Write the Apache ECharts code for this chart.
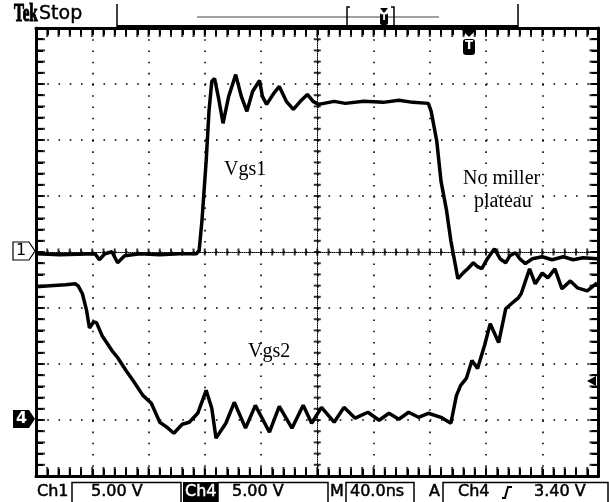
<!DOCTYPE html>
<html><head><meta charset="utf-8">
<script src="https://cdn.jsdelivr.net/npm/echarts@6/dist/echarts.min.js"></script>
<style>html,body{margin:0;padding:0;background:#fff}#c{width:609px;height:502px}</style>
</head><body><div id="c"></div>
<script>
// time in ns (40 ns/div, centred), voltages in V (5 V/div)
const vgs1 = [[-200,-0.16],[-183,-0.24],[-158,-0.16],[-155,-0.69],[-151,-0.16],[-146,0.02],[-142,-0.96],[-137,-0.33],[-126,-0.16],[-112,-0.24],[-98,-0.16],[-86,-0.16],[-84,0.11],[-82,2.78],[-79,8.11],[-77,12.56],[-75,15.22],[-73,15.49],[-70,13.62],[-67,11.49],[-63,13.89],[-58,15.84],[-54,13.89],[-50,12.56],[-46,14.33],[-41,15.31],[-39,13.89],[-36,13.18],[-31,14.15],[-27,14.78],[-22,13.45],[-17,12.73],[-12,13.45],[-7,14.07],[-3,13.45],[1,13.18],[12,13.45],[20,13.27],[33,13.45],[47,13.36],[58,13.54],[68,13.36],[79,13.27],[81,12.56],[85,9.89],[88,6.33],[92,3.67],[95,1.0],[100,-2.38],[104,-1.84],[107,-1.49],[111,-0.96],[114,-1.31],[117,-1.49],[121,-0.6],[126,0.29],[130,-0.6],[134,-0.96],[137,-0.33],[141,-0.07],[144,-0.6],[148,-1.04],[153,-0.6],[160,-0.42],[167,-0.69],[175,-0.42],[182,-0.69],[189,-0.51],[199,-0.6]];
const vgs2 = [[-200,11.89],[-190,11.98],[-179,12.07],[-172,12.16],[-170,11.98],[-167,11.27],[-164,9.76],[-162,8.22],[-159,8.76],[-157,8.69],[-153,7.53],[-146,6.2],[-142,5.58],[-136,4.42],[-131,3.53],[-124,2.2],[-118,1.49],[-112,-0.2],[-107,-0.64],[-102,-1.18],[-96,-0.38],[-91,-0.2],[-85,0.6],[-79,2.65],[-75,1.04],[-72,-1.62],[-65,-0.29],[-59,1.58],[-51,-0.73],[-44,1.31],[-34,-1.09],[-27,1.22],[-18,-0.73],[-10,1.31],[-4,-0.29],[3,1.13],[12,-0.2],[19,1.13],[27,0.16],[36,0.69],[44,-0.02],[51,0.6],[58,0.07],[65,0.69],[72,0.24],[79,0.6],[88,0.24],[95,-0.29],[99,2.2],[102,3.09],[106,3.71],[110,5.31],[114,4.6],[119,6.67],[123,8.6],[129,6.91],[134,9.93],[138,10.38],[143,10.91],[145,11.27],[151,13.49],[155,12.16],[160,13.13],[164,12.69],[169,13.49],[174,11.71],[180,12.42],[185,11.8],[192,11.53],[199,12.24]];
const seriesNames = ['Vgs1','Vgs2'];
// graticule minor tick positions (1/5 division)
const timeTicks = [-192,-184,-176,-168,-160,-152,-144,-136,-128,-120,-112,-104,-96,-88,-80,-72,-64,-56,-48,-40,-32,-24,-16,-8,0,8,16,24,32,40,48,56,64,72,80,88,96,104,112,120,128,136,144,152,160,168,176,184,192];
const voltTicks = [-19,-18,-17,-16,-15,-14,-13,-12,-11,-10,-9,-8,-7,-6,-5,-4,-3,-2,-1,0,1,2,3,4,5,6,7,8,9,10,11,12,13,14,15,16,17,18,19];
const statusTexts = {ch1:'Ch1', ch1Scale:'5.00 V', ch4:'Ch4', ch4Scale:'5.00 V', m:'M', time:'40.0ns', a:'A', trigSrc:'Ch4', trigLevel:'3.40 V'};
const notes = {vgs1:'Vgs1', vgs2:'Vgs2', miller1:'No miller', miller2:'plateau'};

const K = '#000';
const dotV = {show:true, lineStyle:{color:'#000', width:1.6, type:[1.6,9.61]}};
const dotH = {show:true, lineStyle:{color:'#000', width:1.6, type:[1.6,9.65]}};
const frameTick = {show:true, inside:true, length:7, lineStyle:{color:K, width:2}};
const frameMinor = {show:true, splitNumber:5, length:7, lineStyle:{color:K, width:2}};
function frameX(pos, split){
  return {type:'value', min:-200, max:200, interval:40, position:pos,
    axisLine:{show:true, onZero:false, lineStyle:{color:K, width:3}},
    axisTick:frameTick, minorTick:frameMinor, axisLabel:{show:false},
    splitLine: split ? dotV : {show:false}, minorSplitLine:{show:false}};
}
function frameY(pos, min, max, split){
  return {type:'value', min:min, max:max, interval:5, position:pos,
    axisLine:{show:true, onZero:false, lineStyle:{color:K, width:3}},
    axisTick:frameTick, minorTick:frameMinor, axisLabel:{show:false},
    splitLine: split ? dotH : {show:false}, minorSplitLine:{show:false}};
}
function centerX(){
  return {type:'value', min:-200, max:200, interval:40, position:'bottom',
    axisLine:{show:true, onZero:true, onZeroAxisIndex:0, lineStyle:{color:K, width:1, type:[1,1]}},
    axisTick:{show:false}, axisLabel:{show:false}, splitLine:{show:false}};
}
function centerY(){
  return {type:'value', min:-20, max:20, interval:5, position:'left',
    axisLine:{show:true, onZero:true, onZeroAxisIndex:0, lineStyle:{color:K, width:1, type:[1,1]}},
    axisTick:{show:false}, axisLabel:{show:false}, splitLine:{show:false}};
}
function tickSeries(data, size, offset){
  return {type:'scatter', xAxisIndex:0, yAxisIndex:0, data:data, symbol:'rect', symbolSize:size, symbolOffset:offset,
    itemStyle:{color:K}, silent:true, z:6, animation:false, clip:false};
}
function stxt(x, y, s, color){
  return {type:'text', x:x, y:y, z:100, style:{text:s, fill:color||K, fontFamily:'DejaVu Sans', fontSize:16, stroke:color||K, lineWidth:0.5}};
}
function box(x1, x2){
  return {type:'rect', z:90, shape:{x:x1, y:482.5, width:x2-x1, height:25}, style:{fill:'#fff', stroke:K, lineWidth:1.5}};
}
const chart = echarts.init(document.getElementById('c'), null, {renderer:'canvas'});
chart.setOption({
  animation:false,
  backgroundColor:'#fff',
  grid:{left:36, right:10.5, top:28, bottom:26, show:false},
  xAxis:[frameX('bottom', true), frameX('top', false), centerX()],
  yAxis:[frameY('left', -20, 20, true), frameY('right', -5, 35, false), centerY()],
  series:[
    tickSeries(timeTicks.map(t => [t, 20]), [2, 9], [0, 4.5]),
    tickSeries(timeTicks.map(t => [t, -20]), [2, 9], [0, -4.5]),
    tickSeries(timeTicks.map(t => [t, 0]), [2, 7], [0, 0]),
    tickSeries(voltTicks.map(v => [-200, v]), [9, 2], [4.5, 0]),
    tickSeries(voltTicks.map(v => [200, v]), [9, 2], [-4.5, 0]),
    tickSeries(voltTicks.map(v => [0, v]), [7, 2], [0, 0]),
    {name:seriesNames[0], type:'line', xAxisIndex:0, yAxisIndex:0, data:vgs1, showSymbol:false, symbol:'none', lineStyle:{color:K, width:3.5}, z:10},
    {name:seriesNames[1], type:'line', xAxisIndex:0, yAxisIndex:1, data:vgs2, showSymbol:false, symbol:'none', lineStyle:{color:K, width:3.5}, z:10}
  ],
  graphic:[
    // header
    {type:'text', x:14, y:2, z:100, scaleX:0.6, style:{text:'Tek', fill:K, fontFamily:'Liberation Serif', fontWeight:'bold', fontSize:25, stroke:K, lineWidth:1.2}},
    {type:'text', x:39, y:5, z:100, style:{text:'Stop', fill:K, fontFamily:'DejaVu Sans', fontSize:19, stroke:K, lineWidth:0.4}},
    {type:'line', z:100, shape:{x1:117, y1:4, x2:117, y2:28}, style:{stroke:K, lineWidth:1.5}},
    {type:'line', z:100, shape:{x1:518, y1:4, x2:518, y2:28}, style:{stroke:K, lineWidth:1.5}},
    {type:'rect', z:100, shape:{x:117, y:25, width:401, height:4}, style:{fill:K}},
    {type:'line', z:100, shape:{x1:197, y1:17, x2:439, y2:17}, style:{stroke:'#444', lineWidth:1}},
    {type:'polyline', z:100, shape:{points:[[350,7],[347,7],[347,26],[350,26]]}, style:{stroke:K, fill:null, lineWidth:1.5}},
    {type:'polyline', z:100, shape:{points:[[391,7],[394,7],[394,26],[391,26]]}, style:{stroke:K, fill:null, lineWidth:1.5}},
    {type:'polygon', z:100, shape:{points:[[380,8],[388,8],[384,13]]}, style:{fill:K}},
    {type:'rect', z:100, shape:{x:380, y:13, width:8, height:12, r:2}, style:{fill:K}},
    {type:'text', z:101, x:381, y:13, style:{text:'T', fill:'#fff', fontFamily:'DejaVu Sans', fontWeight:'bold', fontSize:9}},
    // trigger position marker
    {type:'polygon', z:100, shape:{points:[[461,29],[477,29],[469,37]]}, style:{fill:K}},
    {type:'rect', z:100, shape:{x:463, y:39, width:12, height:16, r:3}, style:{fill:K}},
    {type:'text', z:101, x:465, y:40, style:{text:'T', fill:'#fff', fontFamily:'DejaVu Sans', fontWeight:'bold', fontSize:12}},
    // trigger level arrow
    {type:'polygon', z:100, shape:{points:[[587,381],[596,376],[596,386]]}, style:{fill:K}},
    // channel ground markers
    {type:'polygon', z:100, shape:{points:[[13,242],[29,242],[35,251],[29,260],[13,260]]}, style:{fill:'#fff', stroke:K, lineWidth:1.2}},
    {type:'text', z:101, x:16, y:243, style:{text:'1', fill:K, fontFamily:'DejaVu Sans', fontSize:16}},
    {type:'polygon', z:100, shape:{points:[[13,410],[29,410],[35,419],[29,428],[13,428]]}, style:{fill:K}},
    {type:'text', z:101, x:16, y:411, style:{text:'4', fill:'#fff', fontFamily:'DejaVu Sans', fontWeight:'bold', fontSize:16}},
    // annotations
    {type:'text', z:100, x:224, y:160, style:{text:notes.vgs1, fill:K, fontFamily:'Liberation Serif', fontSize:20}},
    {type:'text', z:100, x:463, y:169, style:{text:notes.miller1, fill:K, fontFamily:'Liberation Serif', fontSize:20}},
    {type:'text', z:100, x:474, y:192, style:{text:notes.miller2, fill:K, fontFamily:'Liberation Serif', fontSize:20}},
    {type:'text', z:100, x:248, y:342, style:{text:notes.vgs2, fill:K, fontFamily:'Liberation Serif', fontSize:20}},
    // status bar
    stxt(37, 484, statusTexts.ch1),
    box(72, 181), stxt(91, 484, statusTexts.ch1Scale),
    {type:'rect', z:95, shape:{x:183, y:482, width:35, height:20}, style:{fill:K}},
    stxt(185, 484, statusTexts.ch4, '#fff'),
    box(218, 328), stxt(232, 484, statusTexts.ch4Scale),
    stxt(330, 484, statusTexts.m),
    box(346, 414), stxt(350, 484, statusTexts.time),
    stxt(429, 484, statusTexts.a),
    box(443, 608), stxt(458, 484, statusTexts.trigSrc),
    {type:'polyline', z:100, shape:{points:[[502,498],[505,498],[508,487],[512,487]]}, style:{stroke:K, fill:null, lineWidth:2}},
    stxt(534, 484, statusTexts.trigLevel)
  ]
});
</script></body></html>
